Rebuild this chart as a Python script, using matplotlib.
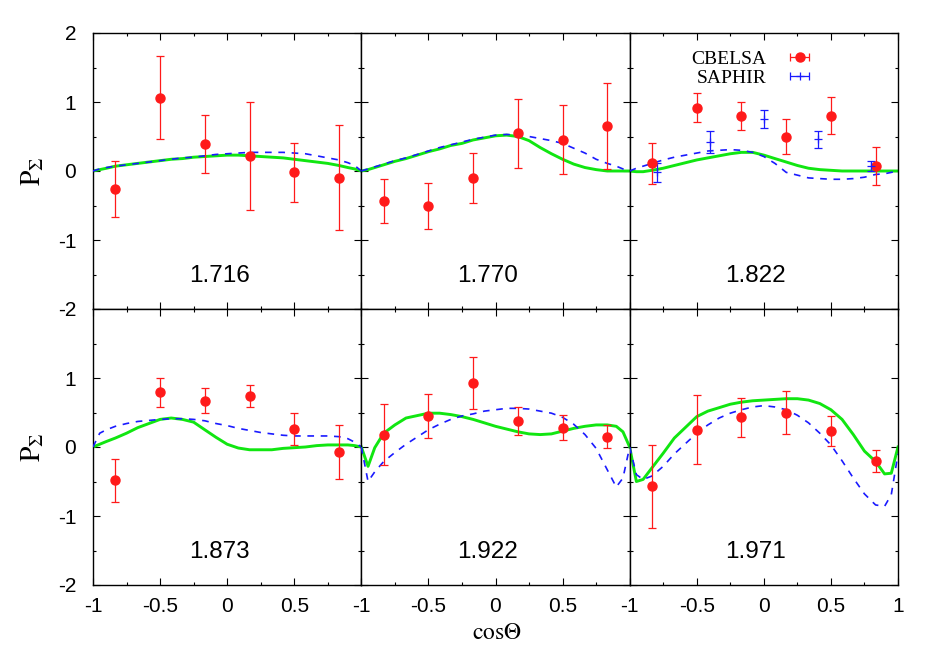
import numpy as np
import matplotlib
matplotlib.use("Agg")
import matplotlib.pyplot as plt
from matplotlib.ticker import MultipleLocator

# energies shown in the panels (GeV)
energies = ["1.716", "1.770", "1.822", "1.873", "1.922", "1.971"]

# CBELSA points (same angles in every panel)
cb_cos = [-0.833, -0.5, -0.167, 0.167, 0.5, 0.833]
cb_p = [
    [-0.26, 1.06, 0.39, 0.22, -0.02, -0.10],
    [-0.44, -0.51, -0.10, 0.55, 0.45, 0.65],
    [0.11, 0.92, 0.80, 0.50, 0.80, 0.07],
    [-0.48, 0.79, 0.67, 0.74, 0.26, -0.07],
    [0.18, 0.45, 0.93, 0.38, 0.28, 0.15],
    [-0.57, 0.25, 0.43, 0.50, 0.23, -0.20],
]
cb_err = [
    [0.40, 0.60, 0.42, 0.78, 0.43, 0.76],
    [0.32, 0.33, 0.36, 0.50, 0.50, 0.62],
    [0.30, 0.21, 0.20, 0.25, 0.27, 0.28],
    [0.31, 0.21, 0.18, 0.16, 0.23, 0.39],
    [0.44, 0.32, 0.38, 0.20, 0.18, 0.17],
    [0.60, 0.50, 0.28, 0.31, 0.22, 0.16],
]

# SAPHIR points (only at 1.822)
sa_cos = [-0.8, -0.4, 0.0, 0.4, 0.8]
sa_p = [-0.02, 0.42, 0.76, 0.46, 0.07]
sa_err = [0.14, 0.16, 0.13, 0.12, 0.07]

# model curves
curve_cos = [-1, -0.95, -0.9, -0.833, -0.75, -0.667, -0.5, -0.417, -0.333,
             -0.25, -0.167, -0.083, 0, 0.083, 0.167, 0.25, 0.333, 0.417, 0.5,
             0.583, 0.667, 0.75, 0.833, 0.9, 0.95, 1]
green = [
    [0, 0.02, 0.04, 0.07, 0.09, 0.11, 0.15, 0.17, 0.18, 0.20, 0.21, 0.22, 0.23,
     0.23, 0.22, 0.21, 0.20, 0.19, 0.17, 0.15, 0.13, 0.11, 0.08, 0.05, 0.03, 0],
    [0, 0.02, 0.05, 0.09, 0.14, 0.18, 0.28, 0.32, 0.37, 0.40, 0.45, 0.48, 0.51,
     0.52, 0.50, 0.44, 0.34, 0.25, 0.17, 0.10, 0.05, 0.02, 0.0, 0.0, 0.0, 0],
    [0, -0.01, -0.01, 0.01, 0.04, 0.08, 0.16, 0.19, 0.22, 0.25, 0.27, 0.27,
     0.23, 0.18, 0.13, 0.08, 0.04, 0.02, 0.01, 0.0, 0.0, 0.0, 0.0, 0.0, 0.0, 0],
    [0, 0.04, 0.08, 0.13, 0.20, 0.28, 0.40, 0.42, 0.40, 0.36, 0.25, 0.14, 0.04,
     -0.015, -0.04, -0.04, -0.04, -0.02, -0.01, 0.0, 0.02, 0.03, 0.03, 0.03,
     0.02, 0],
    [0, -0.28, -0.01, 0.20, 0.32, 0.42, 0.49, 0.49, 0.47, 0.44, 0.40, 0.35,
     0.30, 0.26, 0.22, 0.19, 0.18, 0.19, 0.23, 0.27, 0.30, 0.32, 0.32, 0.30,
     0.22, 0],
    [0, -0.50, -0.47, -0.30, -0.09, 0.13, 0.44, 0.52, 0.57, 0.62, 0.65, 0.67,
     0.68, 0.69, 0.70, 0.70, 0.68, 0.63, 0.54, 0.40, 0.18, -0.06, -0.21, -0.39,
     -0.38, 0],
]
blue = [
    [0, 0.03, 0.05, 0.07, 0.09, 0.11, 0.15, 0.17, 0.19, 0.20, 0.22, 0.24, 0.25,
     0.26, 0.27, 0.27, 0.27, 0.27, 0.26, 0.25, 0.22, 0.19, 0.16, 0.12, 0.08, 0],
    [0, 0.03, 0.06, 0.10, 0.15, 0.19, 0.29, 0.34, 0.38, 0.42, 0.46, 0.49, 0.52,
     0.53, 0.52, 0.50, 0.47, 0.44, 0.40, 0.33, 0.26, 0.17, 0.11, 0.07, 0.03, 0],
    [0, 0.04, 0.07, 0.11, 0.16, 0.20, 0.26, 0.29, 0.30, 0.31, 0.30, 0.27, 0.21,
     0.11, -0.02, -0.06, -0.10, -0.11, -0.12, -0.12, -0.11, -0.09, -0.05,
     -0.04, -0.02, 0],
    [0, 0.20, 0.25, 0.30, 0.34, 0.37, 0.40, 0.41, 0.41, 0.40, 0.38, 0.34, 0.31,
     0.27, 0.24, 0.21, 0.19, 0.17, 0.16, 0.16, 0.16, 0.16, 0.15, 0.12, 0.07, 0],
    [0, -0.50, -0.36, -0.21, -0.08, 0.04, 0.25, 0.33, 0.40, 0.45, 0.48, 0.52,
     0.54, 0.56, 0.56, 0.55, 0.52, 0.49, 0.43, 0.33, 0.18, -0.02, -0.33,
     -0.58, -0.45, 0],
    [0, -0.40, -0.47, -0.42, -0.28, -0.10, 0.20, 0.32, 0.42, 0.49, 0.54, 0.58,
     0.60, 0.58, 0.54, 0.46, 0.35, 0.20, 0.03, -0.20, -0.45, -0.68, -0.84,
     -0.86, -0.69, -0.10],
]

x_ticks = [-1, -0.5, 0, 0.5, 1]
x_labels = ["-1", "-0.5", "0", "0.5", "1"]
y_ticks = [-2, -1, 0, 1, 2]
y_labels = ["-2", "-1", "0", "1", "2"]

plt.rcParams["font.family"] = ["Liberation Sans", "DejaVu Sans"]
plt.rcParams["mathtext.fontset"] = "stix"

GREEN = "#11e611"
RED = "#ff1a1a"
BLUE = "#1a1aff"

fig = plt.figure(figsize=(9.26, 6.49), dpi=100)
gs = fig.add_gridspec(2, 3, left=93/926, right=898/926, top=1-33/649,
                      bottom=1-585/649, hspace=0, wspace=0)

for i, en in enumerate(energies):
    row, col = divmod(i, 3)
    ax = fig.add_subplot(gs[row, col])
    ax.plot(curve_cos, green[i], color=GREEN, lw=2.1, zorder=2)
    ax.plot(curve_cos, blue[i], color=BLUE, lw=1.2, ls=(0, (4, 4)), zorder=3)
    ax.errorbar(cb_cos, cb_p[i], yerr=cb_err[i], fmt="o", color=RED, ms=6.5,
                ecolor=RED, elinewidth=0.9, capsize=3, capthick=0.9, zorder=4)
    if i == 2:
        ax.errorbar(sa_cos, sa_p, yerr=sa_err, fmt="+", color=BLUE, ms=6,
                    mew=0.9, elinewidth=0.9, capsize=3, capthick=0.9, zorder=4)
        # legend proxies with horizontal bars, gnuplot style
        h1 = ax.errorbar([np.nan], [np.nan], xerr=[1], fmt="o", color=RED,
                         ms=6.5, elinewidth=0.9, capsize=3, capthick=0.9)
        h2 = ax.errorbar([np.nan], [np.nan], xerr=[1], fmt="+", color=BLUE,
                         ms=6, mew=0.9, elinewidth=0.9, capsize=3, capthick=0.9)
        ax.legend([h1, h2], ["CBELSA", "SAPHIR"], loc="upper right",
                  bbox_to_anchor=(0.72, 0.965), frameon=False, markerfirst=False,
                  prop={"family": "Liberation Serif", "size": 14},
                  handlelength=1.6, handletextpad=0.9, labelspacing=0.05,
                  borderaxespad=0)

    ax.text(0.47, 0.12, en, transform=ax.transAxes, ha="center", va="center",
            fontsize=17.5)

    ax.set_xlim(-1, 1)
    ax.set_ylim(-2, 2)
    ax.xaxis.set_minor_locator(MultipleLocator(0.25))
    ax.yaxis.set_minor_locator(MultipleLocator(0.5))
    ax.tick_params(which="both", direction="in", top=True, right=True,
                   width=0.8)
    ax.tick_params(which="major", length=5)
    ax.tick_params(which="minor", length=2.5)
    ax.tick_params(axis="x", pad=9, labelsize=15)
    ax.tick_params(axis="y", pad=12, labelsize=15)
    for sp in ax.spines.values():
        sp.set_linewidth(1.0)

    if row == 1:
        xl = x_labels if col == 2 else x_labels[:-1] + [""]
        ax.set_xticks(x_ticks, labels=xl)
    else:
        ax.set_xticks(x_ticks, labels=[""] * len(x_ticks))
    if col == 0:
        yl = y_labels if row == 0 else y_labels[:-1] + [""]
        ax.set_yticks(y_ticks, labels=yl)
        ax.set_ylabel(r"$\mathrm{P}_{\Sigma}$", fontsize=20, labelpad=8)
    else:
        ax.set_yticks(y_ticks, labels=[""] * len(y_ticks))

fig.text(0.537, 1 - 633/649, r"$\mathrm{cos}\Theta$", ha="center",
         va="center", fontsize=17)

plt.savefig("out.png", dpi=100)
plt.close()
